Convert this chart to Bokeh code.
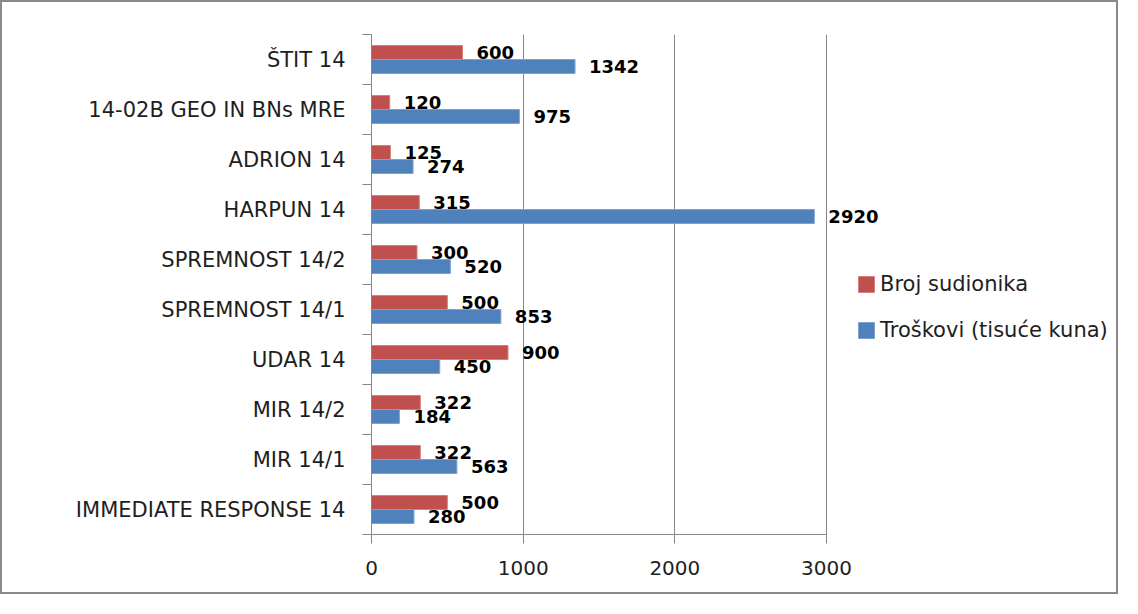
from bokeh.plotting import figure
from bokeh.models import ColumnDataSource, FixedTicker, LabelSet, Legend, LegendItem, Range1d
from bokeh.transform import dodge
from bokeh.core.properties import value
from bokeh.embed import file_html
from bokeh.resources import INLINE

categories = ["IMMEDIATE RESPONSE 14", "MIR 14/1", "MIR 14/2", "UDAR 14", "SPREMNOST 14/1",
              "SPREMNOST 14/2", "HARPUN 14", "ADRION 14", "14-02B GEO IN BNs MRE", "ŠTIT 14"]
broj_sudionika = [500, 322, 322, 900, 500, 300, 315, 125, 120, 600]
troskovi = [280, 563, 184, 450, 853, 520, 2920, 274, 975, 1342]
x_ticks = [0, 1000, 2000, 3000]
series_names = ["Broj sudionika", "Troškovi (tisuće kuna)"]

RED = "#C0504D"
BLUE = "#4F81BD"
GRID = "#868686"
TXT = "#1e1e1e"
FONT = "DejaVu Sans"

# layout (pixels)
W, H = 1118, 594
B_LEFT, B_RIGHT, B_TOP, B_BOTTOM = 369, 2, 32, 62
AXIS_PX = 455  # pixel length of the 0..3000 axis
frame_w = W - B_LEFT - B_RIGHT
x_max = x_ticks[-1]
x_end = x_max * frame_w / AXIS_PX

pos = [i + 0.5 for i in range(len(categories))]
src = ColumnDataSource(dict(y=pos, cat=categories, broj=broj_sudionika, tros=troskovi,
                            broj_lbl=[str(v) for v in broj_sudionika],
                            tros_lbl=[str(v) for v in troskovi]))

p = figure(width=W, height=H, output_backend="svg", toolbar_location=None,
           x_range=Range1d(0, x_end), y_range=Range1d(0, len(categories)),
           min_border_left=B_LEFT, min_border_right=B_RIGHT,
           min_border_top=B_TOP, min_border_bottom=B_BOTTOM)
p.styles = {"border": "2px solid #8a8a8a"}
p.outline_line_color = None
p.background_fill_color = "white"
p.border_fill_color = "white"

bh = 0.28
r_red = p.hbar(y=dodge("y", bh / 2, range=p.y_range), right="broj", left=0, height=bh, source=src,
               fill_color=RED, line_color="#D4807E", line_width=1)
r_blue = p.hbar(y=dodge("y", -bh / 2, range=p.y_range), right="tros", left=0, height=bh, source=src,
                fill_color=BLUE, line_color="#7FA3D0", line_width=1)

for col, lbl, off in (("broj", "broj_lbl", bh / 2), ("tros", "tros_lbl", -bh / 2)):
    ls = LabelSet(x=col, y=dodge("y", off, range=p.y_range), text=lbl, source=src,
                  x_offset=14, text_align="left", text_baseline="middle",
                  text_font=value(FONT), text_font_size="18px", text_font_style="bold",
                  text_color="black")
    p.add_layout(ls)

# x axis (limited to 0..3000)
p.xaxis.bounds = (0, x_max)
p.xaxis.ticker = FixedTicker(ticks=x_ticks)
p.xaxis.axis_line_color = GRID
p.xaxis.major_tick_line_color = GRID
p.xaxis.major_tick_out = 9
p.xaxis.major_tick_in = 0
p.xaxis.minor_tick_line_color = None
p.xaxis.major_label_text_font = FONT
p.xaxis.major_label_text_font_size = "20px"
p.xaxis.major_label_text_color = TXT
p.xaxis.major_label_standoff = 17

# y axis: labels at category centres, ticks at boundaries
p.yaxis.ticker = FixedTicker(ticks=pos, minor_ticks=list(range(len(categories) + 1)))
p.yaxis.major_label_overrides = {y: c for y, c in zip(pos, categories)}
p.yaxis.axis_line_color = GRID
p.yaxis.major_tick_line_color = None
p.yaxis.major_tick_out = 0
p.yaxis.major_tick_in = 0
p.yaxis.minor_tick_line_color = GRID
p.yaxis.minor_tick_out = 9
p.yaxis.minor_tick_in = 0
p.yaxis.major_label_text_font = FONT
p.yaxis.major_label_text_font_size = "21px"
p.yaxis.major_label_text_color = TXT
p.yaxis.major_label_standoff = 17

p.xgrid.ticker = FixedTicker(ticks=x_ticks)
p.xgrid.grid_line_color = GRID
p.ygrid.grid_line_color = None

legend = Legend(items=[LegendItem(label=series_names[0], renderers=[r_red]),
                       LegendItem(label=series_names[1], renderers=[r_blue])],
                location=(AXIS_PX + 30, 192), orientation="vertical",
                glyph_width=20, glyph_height=20, label_standoff=4, spacing=22,
                padding=0, margin=0, border_line_color=None, background_fill_alpha=0,
                label_text_font=FONT, label_text_font_size="21px", label_text_color=TXT)
p.add_layout(legend, "center")

open("out.html", "w").write(file_html(p, INLINE))
